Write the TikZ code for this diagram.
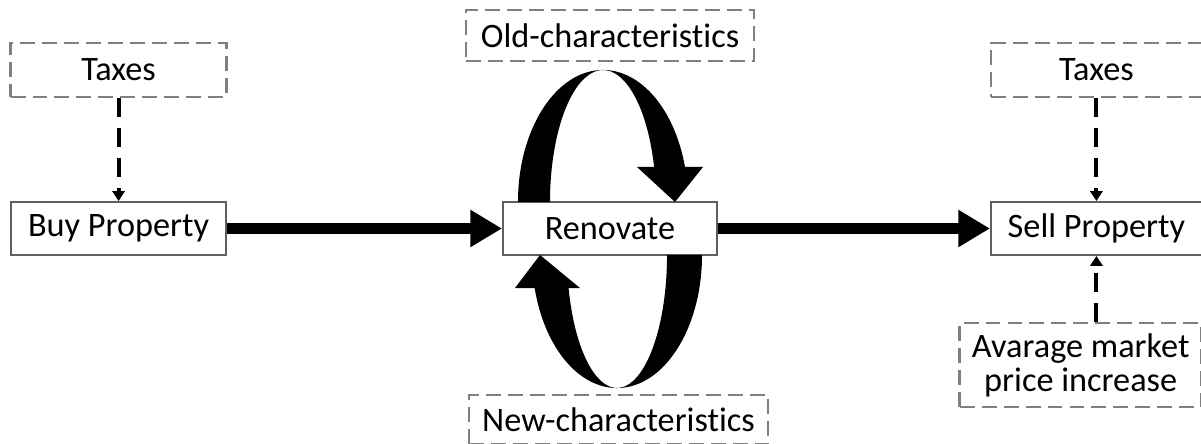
\documentclass[tikz,border=0pt]{standalone}
\usepackage{fontspec}
\setmainfont{Carlito}[Ligatures={NoCommon,NoDiscretionary}]
\usetikzlibrary{arrows.meta, positioning}
\definecolor{framegray}{RGB}{95,95,95}
\definecolor{dashgray}{RGB}{128,128,128}

\begin{document}
\begin{tikzpicture}[
    node distance=2cm and 5.5cm,
    box/.style={rectangle, draw=framegray, line width=1.1pt, fill=white,
                align=center, font=\fontsize{19.5}{19.5}\selectfont,
                inner sep=2pt, minimum height=1.06cm},
    factorbox/.style={box, draw=dashgray, line width=1.4pt,
                      dash pattern=on 8.5pt off 4pt},
    mainflow/.style={-{Triangle[length=18pt,width=20pt]}, line width=6.8pt},
    factorflow/.style={-{Triangle[length=5.7pt,width=7pt]}, line width=2.3pt,
                       dash pattern=on 11pt off 6pt},
    loopfill/.style={fill=black},
]
\useasboundingbox (0,0) rectangle (24.02,8.86);

\node[box, minimum width=4.28cm] (renovate) at (12.2,4.29) {Renovate};

\node[box, minimum width=4.3cm, left=5.5cm of renovate] (buy) {Buy Property};

\node[box, minimum width=4.22cm, right=5.44cm of renovate] (sell) {Sell Property};

\node[factorbox, minimum width=4.32cm, minimum height=1.08cm,
      above=2.06cm of buy] (taxesbuy) {Taxes};

\node[factorbox, minimum width=4.22cm, minimum height=1.08cm,
      above=2.06cm of sell] (taxessell) {Taxes};

\node[factorbox, minimum width=4.84cm, minimum height=1.68cm,
      below=1.32cm of sell.south east, anchor=north east] (market)
     {Avarage market\\price increase};

\node[factorbox, minimum width=5.76cm, minimum height=1.02cm,
      above=2.78cm of renovate] (oldchar) {Old-characteristics};

\node[factorbox, minimum width=5.98cm, minimum height=0.98cm,
      below=2.76cm of renovate, xshift=0.17cm] (newchar) {New-characteristics};

\draw[mainflow] (buy) -- (renovate);
\draw[mainflow] (renovate) -- (sell);

\draw[factorflow] (taxesbuy) -- (buy);
\draw[factorflow] (taxessell) -- (sell);
\draw[factorflow] (market.north -| sell.south) -- (sell.south);

% the two curved arrows turning round the renovation box
\begin{scope}[shift={(renovate.center)}, scale=0.02]
  \fill[loopfill] (-92,26.5)
      arc[start angle=180, end angle=15.4, x radius=85, y radius=132]
      -- (93,61.5) -- (65,26.5) -- (27,61.5) -- (44.1,61.5)
      arc[start angle=15.4, end angle=180, x radius=53, y radius=132] -- cycle;
  \fill[loopfill] (92,-26.5)
      arc[start angle=0, end angle=-165.6, x radius=85, y radius=133]
      -- (-95,-59.5) -- (-70,-26.5) -- (-30,-59.5) -- (-41.4,-59.5)
      arc[start angle=-165.6, end angle=0, x radius=50, y radius=133] -- cycle;
\end{scope}

\end{tikzpicture}
\end{document}
